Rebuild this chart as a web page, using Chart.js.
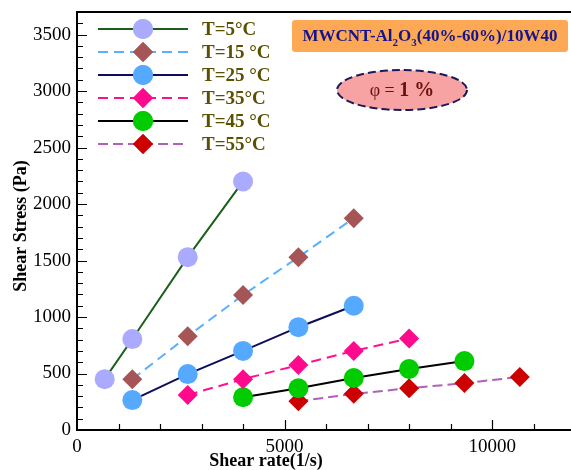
<!DOCTYPE html>
<html>
<head>
<meta charset="utf-8">
<script src="https://cdn.jsdelivr.net/npm/chart.js@4.4.0/dist/chart.umd.min.js"></script>
<style>
  html, body { margin: 0; padding: 0; background: #ffffff; }
  #wrap { width: 571px; height: 470px; position: relative; }
</style>
</head>
<body>
<div id="wrap"><canvas id="c" width="571" height="470"></canvas></div>
<script>
// Shear rate (1/s) and shear stress (Pa) for each temperature
const rate5 = [667, 1333, 2667, 4000];
const stress5 = [450, 805, 1530, 2200];
const rate15 = [1333, 2667, 4000, 5333, 6667];
const stress15 = [450, 830, 1195, 1530, 1875];
const rate25 = [1333, 2667, 4000, 5333, 6667];
const stress25 = [265, 495, 700, 910, 1100];
const rate35 = [2667, 4000, 5333, 6667, 8000];
const stress35 = [310, 450, 575, 700, 810];
const rate45 = [4000, 5333, 6667, 8000, 9333];
const stress45 = [290, 370, 460, 540, 610];
const rate55 = [5333, 6667, 8000, 9333, 10667];
const stress55 = [255, 320, 370, 415, 470];

const seriesLabels = ['T=5°C', 'T=15 °C', 'T=25 °C', 'T=35°C', 'T=45 °C', 'T=55°C'];
const xTickValues = [0, 5000, 10000];
const yTickValues = [0, 500, 1000, 1500, 2000, 2500, 3000, 3500];
const xTitle = 'Shear rate(1/s)';
const yTitle = 'Shear Stress (Pa)';

const SERIF = '"Liberation Serif", "Times New Roman", serif';

function pts(xs, ys) { return xs.map((x, i) => ({ x: x, y: ys[i] })); }

function series(label, xs, ys, line, dash, marker, fill) {
  return {
    label: label,
    data: pts(xs, ys),
    borderColor: line,
    borderWidth: 2,
    borderDash: dash,
    pointStyle: marker,
    pointRadius: 10,
    pointHoverRadius: 10,
    pointBackgroundColor: fill,
    pointBorderColor: fill,
    pointBorderWidth: 0,
    fill: false,
    tension: 0
  };
}

const datasets = [
  series(seriesLabels[0], rate5, stress5, '#1c5e1c', [], 'circle', '#aaaaff'),
  series(seriesLabels[1], rate15, stress15, '#5aafff', [10, 6], 'rectRot', '#a55555'),
  series(seriesLabels[2], rate25, stress25, '#0d0d5c', [], 'circle', '#55aaff'),
  series(seriesLabels[3], rate35, stress35, '#ff1090', [10, 6], 'rectRot', '#ff0a8c'),
  series(seriesLabels[4], rate45, stress45, '#000000', [], 'circle', '#00cc00'),
  series(seriesLabels[5], rate55, stress55, '#b060b8', [10, 5], 'rectRot', '#cc0000')
];

// Frame, inward tick marks and axis titles
const framePlugin = {
  id: 'frame',
  afterDraw(chart) {
    const ctx = chart.ctx;
    const a = chart.chartArea;
    const xs = chart.scales.x, ys = chart.scales.y;
    ctx.save();
    ctx.strokeStyle = '#000';
    ctx.lineWidth = 2;
    ctx.beginPath();
    ctx.moveTo(a.left, a.top); ctx.lineTo(a.right, a.top);
    ctx.moveTo(a.left, a.top - 1); ctx.lineTo(a.left, a.bottom + 1);
    ctx.moveTo(a.left - 1, a.bottom); ctx.lineTo(a.right, a.bottom);
    ctx.stroke();

    ctx.lineWidth = 1.2;
    ctx.beginPath();
    for (let v = 100; v <= ys.max; v += 100) {
      const y = Math.round(ys.getPixelForValue(v)) + 0.5;
      const len = (v % 500 === 0) ? 10 : 6;
      ctx.moveTo(a.left, y); ctx.lineTo(a.left + len, y);
    }
    for (let v = 1000; v <= xs.max; v += 1000) {
      const x = Math.round(xs.getPixelForValue(v)) + 0.5;
      const len = (v % 5000 === 0) ? 10 : 6;
      ctx.moveTo(x, a.bottom); ctx.lineTo(x, a.bottom - len);
    }
    ctx.stroke();

    ctx.fillStyle = '#000';
    ctx.font = 'bold 18px ' + SERIF;
    ctx.textAlign = 'center';
    ctx.textBaseline = 'middle';
    ctx.fillText(xTitle, 266, 461);
    ctx.translate(21, 226);
    ctx.rotate(-Math.PI / 2);
    ctx.fillText(yTitle, 0, 0);
    ctx.restore();
  }
};

// Legend with line sample and marker, drawn inside the plot
const legendPlugin = {
  id: 'innerLegend',
  afterDatasetsDraw(chart) {
    const ctx = chart.ctx;
    ctx.save();
    chart.data.datasets.forEach((ds, i) => {
      const y = 29 + i * 23;
      ctx.strokeStyle = ds.borderColor;
      ctx.lineWidth = 2;
      ctx.setLineDash(ds.borderDash);
      ctx.beginPath();
      ctx.moveTo(98, y); ctx.lineTo(188, y);
      ctx.stroke();
      ctx.setLineDash([]);
      ctx.fillStyle = ds.pointBackgroundColor;
      Chart.helpers.drawPoint(ctx, { pointStyle: ds.pointStyle, rotation: 0, borderWidth: 0, radius: 10 }, 143, y);
      ctx.fill();
      ctx.fillStyle = '#5a5000';
      ctx.font = 'bold 19px ' + SERIF;
      ctx.textAlign = 'left';
      ctx.textBaseline = 'middle';
      ctx.fillText(ds.label, 202, y + 1);
    });
    ctx.restore();
  }
};

// Sample description box and concentration ellipse
const notePlugin = {
  id: 'notes',
  afterDraw(chart) {
    const ctx = chart.ctx;
    ctx.save();
    // orange box
    const bx = 292, by = 20, bw = 276, bh = 32, r = 3;
    ctx.fillStyle = '#fda855';
    ctx.beginPath();
    ctx.moveTo(bx + r, by);
    ctx.arcTo(bx + bw, by, bx + bw, by + bh, r);
    ctx.arcTo(bx + bw, by + bh, bx, by + bh, r);
    ctx.arcTo(bx, by + bh, bx, by, r);
    ctx.arcTo(bx, by, bx + bw, by, r);
    ctx.closePath();
    ctx.fill();

    const parts = [
      ['MWCNT-Al', 0, 17], ['2', 5, 11], ['O', 0, 17], ['3', 5, 11], ['(40%-60%)/10W40', 0, 17]
    ];
    ctx.fillStyle = '#14148c';
    ctx.textBaseline = 'alphabetic';
    ctx.textAlign = 'left';
    let total = 0;
    parts.forEach(p => { ctx.font = 'bold ' + p[2] + 'px ' + SERIF; total += ctx.measureText(p[0]).width; });
    let x = 430 - total / 2;
    parts.forEach(p => {
      ctx.font = 'bold ' + p[2] + 'px ' + SERIF;
      ctx.fillText(p[0], x, 41 + p[1]);
      x += ctx.measureText(p[0]).width;
    });

    // ellipse
    ctx.beginPath();
    ctx.ellipse(402, 90, 65, 20, 0, 0, Math.PI * 2);
    ctx.fillStyle = '#f8a3a3';
    ctx.fill();
    ctx.setLineDash([8, 4]);
    ctx.lineWidth = 2;
    ctx.strokeStyle = '#1a1a5a';
    ctx.stroke();
    ctx.setLineDash([]);

    const phi = [['φ = ', 'normal 18px '], ['1 %', 'bold 20px ']];
    let w = 0;
    phi.forEach(p => { ctx.font = p[1] + SERIF; w += ctx.measureText(p[0]).width; });
    x = 402 - w / 2;
    ctx.fillStyle = '#6b1010';
    phi.forEach(p => {
      ctx.font = p[1] + SERIF;
      ctx.fillText(p[0], x, 96);
      x += ctx.measureText(p[0]).width;
    });
    ctx.restore();
  }
};

new Chart(document.getElementById('c'), {
  type: 'line',
  data: { datasets: datasets },
  options: {
    responsive: false,
    devicePixelRatio: 1,
    animation: false,
    layout: { autoPadding: false, padding: { top: 12, right: 0, left: 0, bottom: 0 } },
    plugins: { legend: { display: false }, tooltip: { enabled: false } },
    scales: {
      x: {
        type: 'linear',
        min: 0,
        max: 11900,
        grid: { display: false, drawTicks: false },
        border: { display: false },
        afterBuildTicks(scale) { scale.ticks = xTickValues.map(v => ({ value: v })); },
        afterFit(scale) { scale.height = 40; scale.paddingLeft = 0; scale.paddingRight = 0; },
        ticks: {
          padding: 6,
          color: '#000',
          maxRotation: 0,
          font: { family: SERIF, size: 19 },
          callback: v => String(v)
        }
      },
      y: {
        type: 'linear',
        min: 0,
        max: 3700,
        grid: { display: false, drawTicks: false },
        border: { display: false },
        afterBuildTicks(scale) { scale.ticks = yTickValues.map(v => ({ value: v })); },
        afterFit(scale) { scale.width = 77; scale.paddingTop = 0; scale.paddingBottom = 0; },
        ticks: {
          padding: 6,
          color: '#000',
          font: { family: SERIF, size: 19 },
          callback: v => String(v)
        }
      }
    }
  },
  plugins: [framePlugin, legendPlugin, notePlugin]
});
</script>
</body>
</html>
